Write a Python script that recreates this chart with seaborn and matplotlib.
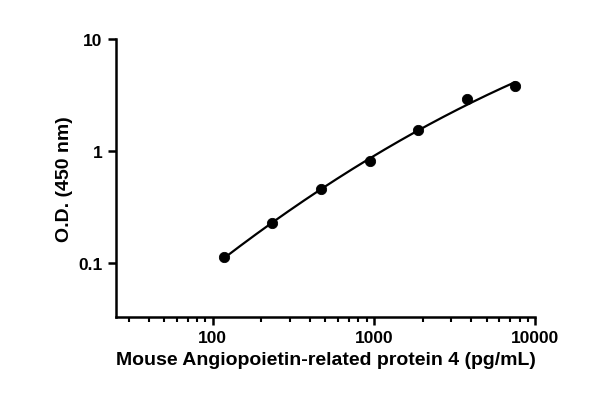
import numpy as np
import seaborn as sns
import matplotlib.pyplot as plt
import matplotlib.ticker as mticker

sns.set_theme(style="ticks")
plt.rcParams['font.family'] = ['Liberation Sans', 'DejaVu Sans']
plt.rcParams['font.weight'] = 'bold'
plt.rcParams['text.color'] = 'black'
plt.rcParams['axes.labelcolor'] = 'black'

conc = [117.2, 234.4, 468.8, 937.5, 1875, 3750, 7500]
od = [0.113, 0.227, 0.455, 0.81, 1.53, 2.92, 3.85]

fig = plt.figure(figsize=(6, 4.06), dpi=100)
ax = fig.add_axes([0.193, 0.217, 0.699, 0.684])

# smooth fit in log-log space
coef = np.polyfit(np.log10(conc), np.log10(od), 2)
xs = np.logspace(np.log10(conc[0]), np.log10(conc[-1]), 200)
ys = 10 ** np.polyval(coef, np.log10(xs))
sns.lineplot(x=xs, y=ys, ax=ax, color='black', lw=1.6)
sns.scatterplot(x=conc, y=od, ax=ax, color='black', s=55, edgecolor='black', zorder=3)

ax.set_xscale('log')
ax.set_yscale('log')
ax.set_xlim(25, 10000)
ax.set_ylim(0.033, 10)
ax.set_yticks([0.1, 1, 10])
ax.xaxis.set_major_formatter(mticker.FuncFormatter(lambda v, p: f'{v:g}'))
ax.yaxis.set_major_formatter(mticker.FuncFormatter(lambda v, p: f'{v:g}'))
ax.xaxis.set_minor_locator(mticker.LogLocator(base=10, subs=np.arange(2, 10)))
ax.yaxis.set_minor_locator(mticker.NullLocator())
ax.xaxis.set_minor_formatter(mticker.NullFormatter())

for s in ['bottom', 'left']:
    ax.spines[s].set_linewidth(1.8)
    ax.spines[s].set_color('black')
sns.despine(ax=ax)
ax.tick_params(which='major', length=6, width=1.8, labelsize=12.5, colors='black')
ax.tick_params(which='minor', length=3.5, width=1.5, colors='black')
for lab in ax.get_xticklabels() + ax.get_yticklabels():
    lab.set_fontweight('bold')

ax.set_xlabel('Mouse Angiopoietin-related protein 4 (pg/mL)', fontsize=14, fontweight='bold', color='black')
ax.set_ylabel('O.D. (450 nm)', fontsize=14, fontweight='bold', color='black')

fig.savefig('out.png', dpi=100)
